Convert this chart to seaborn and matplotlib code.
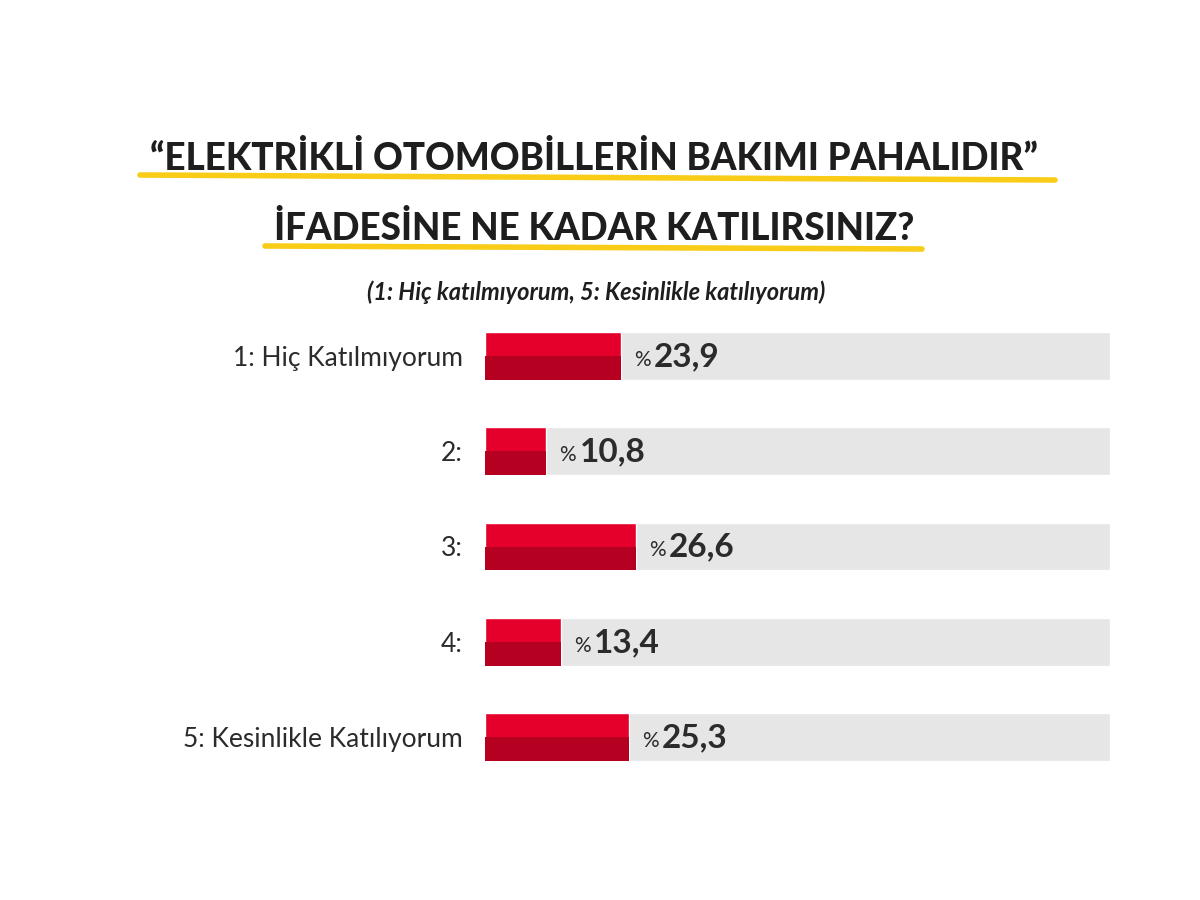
import numpy as np
import pandas as pd
import seaborn as sns
import matplotlib.pyplot as plt
from matplotlib.lines import Line2D

# survey answers
labels = ['1: Hiç Katılmıyorum', '2:', '3:', '4:', '5: Kesinlikle Katılıyorum']
values = [23.9, 10.8, 26.6, 13.4, 25.3]
track_max = 110

title1 = '\u201cELEKTRİKLİ OTOMOBİLLERİN BAKIMI PAHALIDIR\u201d'
title2 = 'İFADESİNE NE KADAR KATILIRSINIZ?'
subtitle = '(1: Hiç katılmıyorum, 5: Kesinlikle katılıyorum)'

red = '#e4002b'
dark_red = '#b50022'
grey = '#e6e6e6'
yellow = '#f8cc17'

sns.set_theme(style='white')
plt.rcParams['font.family'] = ['Lato', 'DejaVu Sans']

df = pd.DataFrame({'label': labels, 'value': values, 'track': [track_max] * len(values)})

fig = plt.figure(figsize=(12, 9), dpi=100)
fig.patch.set_facecolor('white')
ax = fig.add_axes([485 / 1200, 1 - 761 / 900, 625 / 1200, 429 / 900])

sns.barplot(data=df, x='track', y='label', color=grey, width=0.5, saturation=1, ax=ax)
sns.barplot(data=df, x='value', y='label', color=red, width=0.5, saturation=1, ax=ax)
# darker lower half of every bar
ypos = np.arange(len(values))
ax.barh(ypos + 0.125, df['value'], height=0.25, color=dark_red, linewidth=0)

ax.set_xlim(0, track_max)
ax.set_ylim(4.25, -0.25)
ax.set_xlabel('')
ax.set_ylabel('')
ax.set_xticks([])
sns.despine(ax=ax, left=True, bottom=True)
ax.tick_params(axis='y', length=0, pad=16, labelsize=19, labelcolor='#2b2b2b')

for y, v in zip(ypos, values):
    ax.annotate('%', (v, y), xytext=(13, -10), textcoords='offset pixels',
                ha='left', va='baseline', fontsize=15, color='#2b2b2b')
    ax.annotate(f'{v:.1f}'.replace('.', ','), (v, y), xytext=(33, -10), textcoords='offset pixels',
                ha='left', va='baseline', fontsize=24, fontweight='bold', color='#2b2b2b')

cx = 0.495
fig.text(cx, 1 - 159 / 900, title1, ha='center', va='center', fontsize=26.5,
         fontweight='black', color='#1e1e1e')
fig.text(cx, 1 - 229 / 900, title2, ha='center', va='center', fontsize=26.5,
         fontweight='black', color='#1e1e1e')
fig.text(0.497, 1 - 292 / 900, subtitle, ha='center', va='center', fontsize=17,
         fontweight='bold', style='italic', color='#1e1e1e')

# yellow underlines
fig.add_artist(Line2D([140 / 1200, 1055 / 1200], [1 - 175 / 900, 1 - 180 / 900],
                      color=yellow, lw=4, solid_capstyle='round', zorder=0))
fig.add_artist(Line2D([265 / 1200, 922 / 1200], [1 - 246 / 900, 1 - 249 / 900],
                      color=yellow, lw=4, solid_capstyle='round', zorder=0))

fig.savefig('out.png', dpi=100, facecolor='white')
